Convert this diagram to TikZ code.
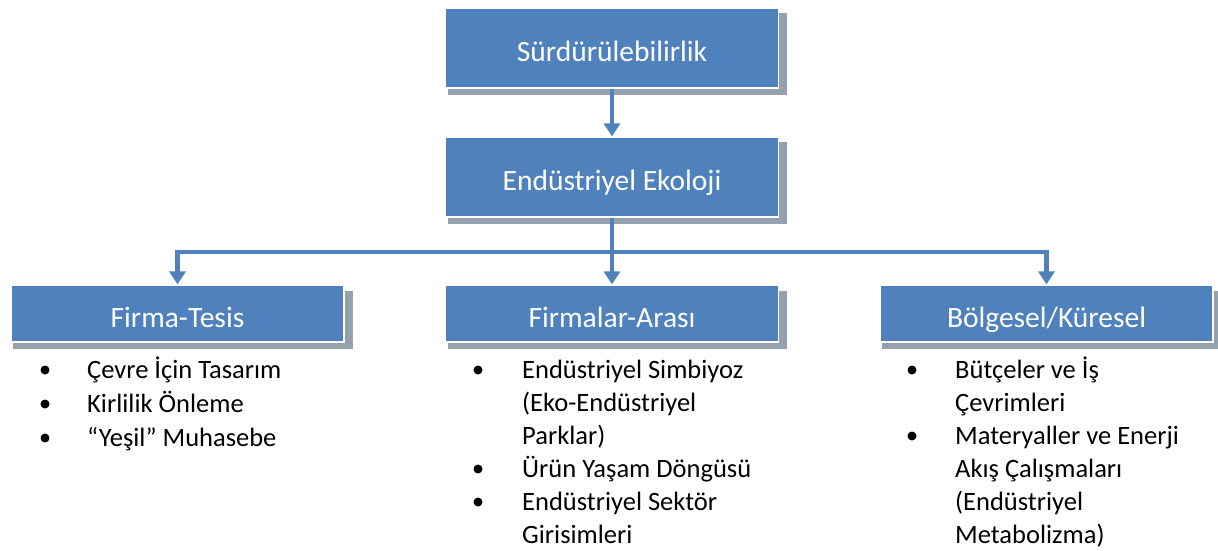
\documentclass[tikz,border=0pt]{standalone}
\usepackage{fontspec}
\setmainfont{Carlito}
\usetikzlibrary{shadows,arrows.meta}
\definecolor{boxblue}{RGB}{79,129,189}
\definecolor{shadowgray}{RGB}{150,161,176}
\tikzset{
  levelbox/.style={rectangle, fill=boxblue, draw=white, line width=1.2pt,
    text=white, minimum width=333pt, text height=28pt, text depth=1pt,
    font=\fontsize{29.5}{34}\selectfont,
    general shadow={fill=shadowgray, shadow xshift=5.5pt, shadow yshift=-6pt,
      shadow scale=1.02}},
  conn/.style={draw=boxblue, line width=4.5pt, -{Triangle[width=16pt,length=13pt]}},
  itemtext/.style={anchor=north west, align=left, inner sep=0pt,
    font=\fontsize{26.5}{33}\selectfont}
}
\begin{document}
\begin{tikzpicture}[x=1pt,y=-1pt]
  \useasboundingbox (0,0) rectangle (1218,550);

  \node[levelbox, minimum height=80pt] (sur) at (612,48) {Sürdürülebilirlik};
  \node[levelbox, minimum height=80pt] (eko) at (612,177) {Endüstriyel Ekoloji};

  \node[levelbox, minimum height=57pt] (firma) at (177.5,313.5) {Firma-Tesis};
  \node[levelbox, minimum height=57pt] (arasi) at (612,313.5) {Firmalar-Arası};
  \node[levelbox, minimum height=57pt] (bolge) at (1046.5,313.5) {Bölgesel/Küresel};

  \coordinate (split) at (612,252);

  \draw[conn] (sur) -- (eko);
  \draw[conn] (eko) -- (arasi);
  \draw[conn] (split) -| (firma);
  \draw[conn] (split) -| (bolge);

  % Firma-Tesis (first line tops = baseline - 23.1)
  \fill (45,370) circle (4.5);
  \fill (45,404) circle (4.5);
  \fill (45,438) circle (4.5);
  \node[itemtext] (f1) at (87,354.9) {\strut Çevre İçin Tasarım};
  \node[itemtext] (f2) at (87,388.9) {\strut Kirlilik Önleme};
  \node[itemtext] (f3) at (87,422.9) {\strut “Yeşil” Muhasebe};

  % Firmalar-Arasi
  \fill (478,370) circle (4.5);
  \fill (478,469) circle (4.5);
  \fill (478,502) circle (4.5);
  \node[itemtext] (a1) at (522,354.9) {\strut Endüstriyel Simbiyoz\\(Eko-Endüstriyel\\Parklar)};
  \node[itemtext] (a2) at (522,453.9) {\strut Ürün Yaşam Döngüsü};
  \node[itemtext] (a3) at (522,486.9) {\strut Endüstriyel Sektör\\Girisimleri};

  % Bolgesel/Kuresel
  \fill (912,370) circle (4.5);
  \fill (912,436) circle (4.5);
  \node[itemtext] (k1) at (955,354.9) {\strut Bütçeler ve İş\\Çevrimleri};
  \node[itemtext] (k2) at (955,420.9) {\strut Materyaller ve Enerji\\Akış Çalışmaları\\(Endüstriyel\\Metabolizma)};
\end{tikzpicture}
\end{document}
